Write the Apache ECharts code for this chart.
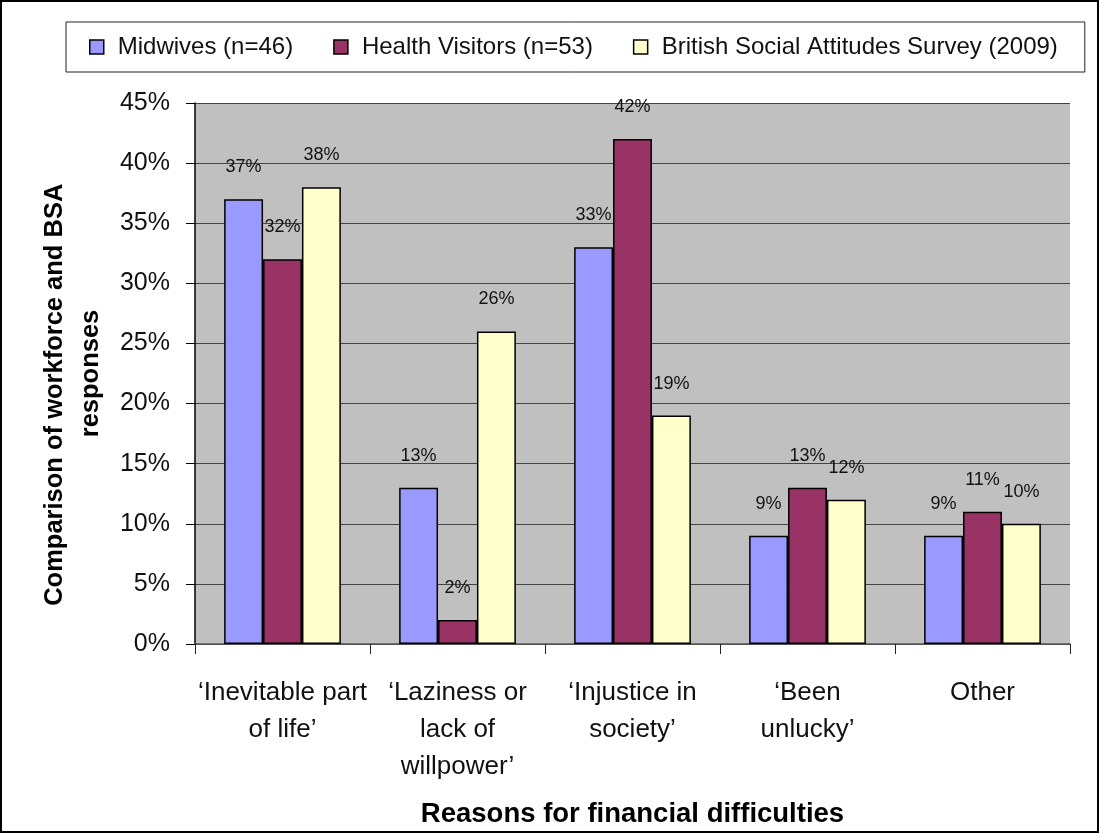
<!DOCTYPE html>
<html>
<head>
<meta charset="utf-8">
<script src="https://cdn.jsdelivr.net/npm/echarts@6/dist/echarts.min.js"></script>
<style>
  html, body { margin: 0; padding: 0; background: #fff; }
  #frame { position: absolute; left: 0; top: 0; width: 1095px; height: 829px; border: 2px solid #000; }
  #chart { width: 1099px; height: 833px; position: absolute; left: 0; top: 0; }
</style>
</head>
<body>
<div id="frame"></div>
<div id="chart"></div>
<script>
// categories and values (percent)
var categories = [
  '\u2018Inevitable part\nof life\u2019',
  '\u2018Laziness or\nlack of\nwillpower\u2019',
  '\u2018Injustice in\nsociety\u2019',
  '\u2018Been\nunlucky\u2019',
  'Other'
];
var seriesNames = ['Midwives (n=46)', 'Health Visitors (n=53)', 'British Social Attitudes Survey (2009)'];
var midwives = [37, 13, 33, 9, 9];
var healthVisitors = [32, 2, 42, 13, 11];
var bsa = [38, 26, 19, 12, 10];

var colors = ['#9999FF', '#993366', '#FFFFCC'];
var font = '"Liberation Sans", Arial, sans-serif';

var myChart = echarts.init(document.getElementById('chart'));

function makeSeries(name, values, color) {
  return {
    name: name,
    type: 'bar',
    data: values,
    barGap: '0%',
    barCategoryGap: '33.3%',
    itemStyle: { color: color, borderColor: '#000', borderWidth: 1.5 },
    label: {
      show: true,
      position: 'top',
      distance: 23,
      formatter: '{c}%',
      color: '#111',
      fontFamily: font,
      fontSize: 18
    },
    emphasis: { disabled: true }
  };
}

var option = {
  animation: false,
  legend: {
    top: 22,
    left: 66,
    padding: [13, 27, 13, 23],
    borderColor: '#222',
    borderWidth: 1,
    backgroundColor: '#fff',
    itemWidth: 14,
    itemHeight: 14,
    itemGap: 40,
    icon: 'rect',
    itemStyle: { borderColor: '#000', borderWidth: 1.5 },
    textStyle: { fontFamily: font, fontSize: 24, color: '#111', padding: [0, 0, 0, 9] },
    data: seriesNames
  },
  grid: {
    left: 195,
    right: 29,
    top: 103,
    bottom: 188,
    show: true,
    backgroundColor: '#C0C0C0',
    borderWidth: 0
  },
  xAxis: {
    type: 'category',
    data: categories,
    axisLine: { lineStyle: { color: '#555', width: 1.5 } },
    axisTick: { show: true, length: 10, lineStyle: { color: '#222' } },
    axisLabel: {
      margin: 30,
      fontFamily: font,
      fontSize: 26,
      lineHeight: 37,
      color: '#111',
      interval: 0
    },
    name: 'Reasons for financial difficulties',
    nameLocation: 'middle',
    nameGap: 156,
    nameTextStyle: { fontFamily: font, fontWeight: 'bold', fontSize: 27.5, color: '#000' }
  },
  yAxis: {
    type: 'value',
    min: 0,
    max: 45,
    interval: 5,
    axisLine: { show: true, lineStyle: { color: '#000', width: 1.5 } },
    axisTick: { show: true, length: 9, lineStyle: { color: '#000' } },
    axisLabel: {
      formatter: '{value}%',
      margin: 25,
      fontFamily: font,
      fontSize: 25,
      color: '#111'
    },
    splitLine: { lineStyle: { color: '#444', width: 1 } },
    name: 'Comparison of workforce and BSA      \nresponses',
    nameLocation: 'middle',
    nameGap: 81,
    nameTextStyle: { fontFamily: font, fontWeight: 'bold', fontSize: 25.5, lineHeight: 36, color: '#000' }
  },
  series: [
    makeSeries(seriesNames[0], midwives, colors[0]),
    makeSeries(seriesNames[1], healthVisitors, colors[1]),
    makeSeries(seriesNames[2], bsa, colors[2])
  ]
};

myChart.setOption(option);
</script>
</body>
</html>
